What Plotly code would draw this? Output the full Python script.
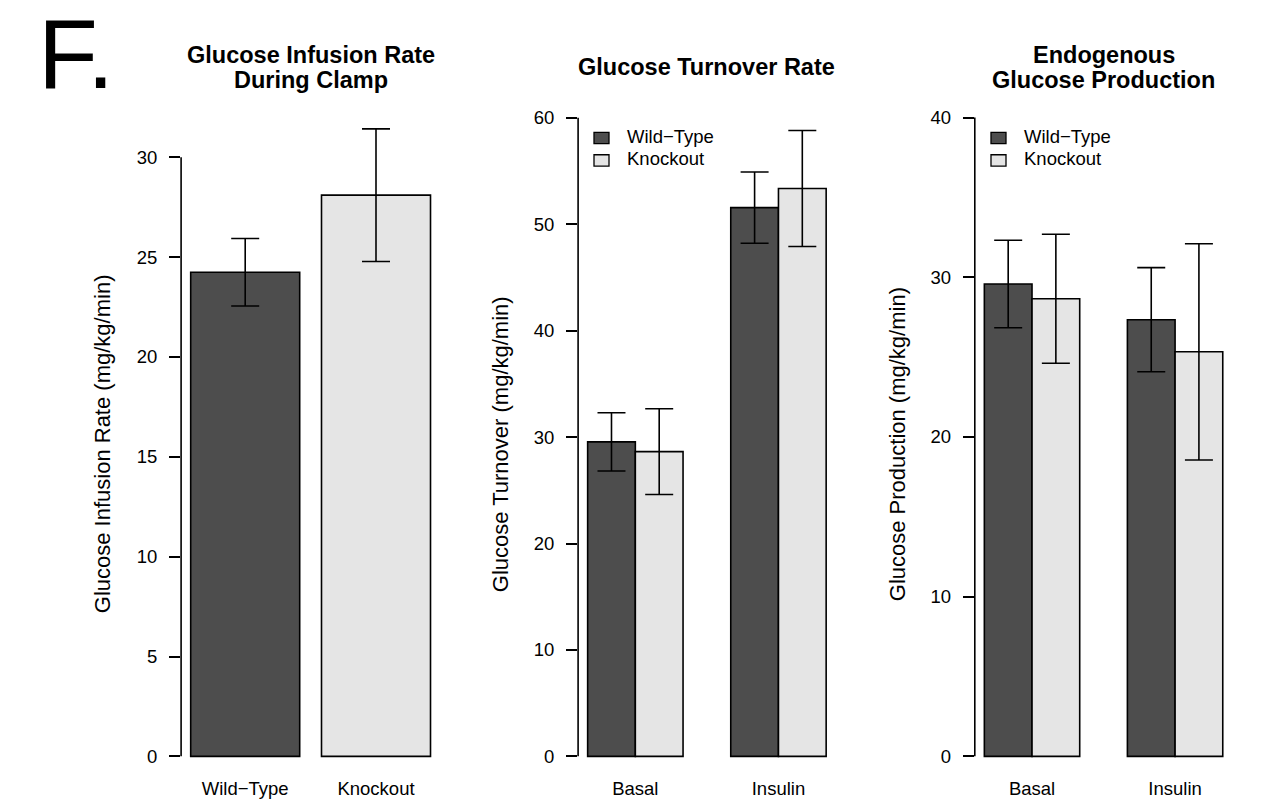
import plotly.graph_objects as go

# ---------------- data ----------------
gir_groups = ["Wild\u2212Type", "Knockout"]
gir_mean = [24.24, 28.10]
gir_se = [1.69, 3.32]

conditions = ["Basal", "Insulin"]
series_names = ["Wild\u2212Type", "Knockout"]

turnover_wt = [29.55, 51.56]
turnover_wt_se = [2.74, 3.35]
turnover_ko = [28.63, 53.36]
turnover_ko_se = [4.03, 5.45]

egp_wt = [29.58, 27.34]
egp_wt_se = [2.74, 3.26]
egp_ko = [28.65, 25.33]
egp_ko_se = [4.04, 6.77]

gir_ticks = [0, 5, 10, 15, 20, 25, 30]
turnover_ticks = [0, 10, 20, 30, 40, 50, 60]
egp_ticks = [0, 10, 20, 30, 40]

titles = [["Glucose Infusion Rate", "During Clamp"],
          ["Glucose Turnover Rate"],
          ["Endogenous", "Glucose Production"]]
ytitles = ["Glucose Infusion Rate (mg/kg/min)",
           "Glucose Turnover (mg/kg/min)",
           "Glucose Production (mg/kg/min)"]

# ---------------- styling / layout ----------------
OFF = 8                      # page body margin in the browser
W, H = 1284 - OFF, 804 - OFF
FONT = "Liberation Sans, Arial, Helvetica, sans-serif"
WT_COL = "#4d4d4d"
KO_COL = "#e5e5e5"
LW = 1.6
TICK_FS = 18.5
TITLE_FS = 23.5
YT_FS = 22


def fx(p):
    return (p - OFF) / W


def fy(p):
    return 1 - (p - OFF) / H


PLOT_TOP, PLOT_BOT = 108, 773
ZERO_PX = 756

panels = [
    dict(xd=(181.1, 440.1), xr=(0.112, 2.488), ppu=(756 - 152.3) / 30),
    dict(xd=(578.1, 835.7), xr=(0.8, 6.2), ppu=(755.7 - 112.3) / 60),
    dict(xd=(974.8, 1232.3), xr=(0.8, 6.2), ppu=(756 - 112.3) / 40),
]

fig = go.Figure()


def err(arr):
    return dict(type="data", array=arr, color="black", thickness=LW, width=14)


bar_line = dict(color="black", width=LW)

# Panel 1
gir_x = [0.7 + 1.2 * i for i in range(len(gir_groups))]
fig.add_trace(go.Bar(
    x=gir_x, y=gir_mean, width=1, name="GIR",
    marker=dict(color=[WT_COL, KO_COL], line=bar_line),
    error_y=err(gir_se), showlegend=False, xaxis="x", yaxis="y"))

# Panels 2 and 3 (grouped)
grp_wt_x = [1.5 + 3 * i for i in range(len(conditions))]
grp_ko_x = [2.5 + 3 * i for i in range(len(conditions))]
grp_center = [2 + 3 * i for i in range(len(conditions))]

for (wt, wtse, ko, kose, ax) in [
        (turnover_wt, turnover_wt_se, turnover_ko, turnover_ko_se, "2"),
        (egp_wt, egp_wt_se, egp_ko, egp_ko_se, "3")]:
    fig.add_trace(go.Bar(
        name=series_names[0], x=grp_wt_x, y=wt, width=1,
        marker=dict(color=WT_COL, line=bar_line), error_y=err(wtse),
        xaxis="x" + ax, yaxis="y" + ax, showlegend=False))
    fig.add_trace(go.Bar(
        name=series_names[1], x=grp_ko_x, y=ko, width=1,
        marker=dict(color=KO_COL, line=bar_line), error_y=err(kose),
        xaxis="x" + ax, yaxis="y" + ax, showlegend=False))

tick_sets = [gir_ticks, turnover_ticks, egp_ticks]
xtick_sets = [(gir_x, gir_groups), (grp_center, conditions), (grp_center, conditions)]

layout = dict(
    width=W, height=H, margin=dict(l=0, r=0, t=0, b=0),
    plot_bgcolor="white", paper_bgcolor="white",
    barmode="overlay", font=dict(family=FONT, color="black", size=TICK_FS),
)

shapes = []
annotations = []
for i, p in enumerate(panels):
    sfx = "" if i == 0 else str(i + 1)
    ymin = -(PLOT_BOT - ZERO_PX) / p["ppu"]
    ymax = (ZERO_PX - PLOT_TOP) / p["ppu"]
    layout["xaxis" + sfx] = dict(
        domain=[fx(p["xd"][0]), fx(p["xd"][1])], range=list(p["xr"]),
        anchor="y" + sfx, showline=False, showgrid=False, zeroline=False,
        tickmode="array", tickvals=xtick_sets[i][0], ticktext=xtick_sets[i][1],
        ticks="", tickfont=dict(size=TICK_FS), ticklabelstandoff=2,
        fixedrange=True)
    layout["yaxis" + sfx] = dict(
        domain=[fy(PLOT_BOT), fy(PLOT_TOP)], range=[ymin, ymax],
        anchor="x" + sfx, showline=False, showgrid=False, zeroline=False,
        tickmode="array", tickvals=tick_sets[i], ticks="outside", ticklen=11,
        tickwidth=LW, tickcolor="black", tickfont=dict(size=TICK_FS),
        ticklabelstandoff=8, fixedrange=True)
    shapes.append(dict(type="line", xref="x" + sfx + " domain", yref="y" + sfx,
                       x0=0, x1=0, y0=tick_sets[i][0], y1=tick_sets[i][-1],
                       line=dict(color="black", width=LW)))
    cx = (p["xd"][0] + p["xd"][1]) / 2
    lines = titles[i]
    ys = [61.5] if len(lines) == 1 else [49.5, 74.5]
    for ln, yy in zip(lines, ys):
        annotations.append(dict(
            text="<b>" + ln + "</b>", x=fx(cx), y=fy(yy),
            xref="paper", yref="paper", xanchor="center", yanchor="middle",
            showarrow=False, font=dict(size=TITLE_FS, family=FONT)))

# y-axis titles (rotated)
ytitle_x = [102, 500, 897]
for i in range(3):
    annotations.append(dict(
        text=ytitles[i], x=fx(ytitle_x[i]), y=fy(441.5), xref="paper", yref="paper",
        xanchor="center", yanchor="middle", textangle=-90, showarrow=False,
        font=dict(size=YT_FS, family=FONT)))

# legends for panels 2 and 3 (drawn as key boxes + labels)
legend_sq_x = [594, 991]
legend_txt_x = [625, 1022]
legend_rows = [133, 155.5]
legend_cols = [WT_COL, KO_COL]
for k in range(2):
    for r in range(2):
        shapes.append(dict(
            type="rect", xref="paper", yref="paper",
            x0=fx(legend_sq_x[k]), x1=fx(legend_sq_x[k] + 15),
            y0=fy(legend_rows[r] - 5.7), y1=fy(legend_rows[r] + 5.7),
            fillcolor=legend_cols[r], line=dict(color="black", width=1.3)))
        annotations.append(dict(
            text=series_names[r], x=fx(legend_txt_x[k]), y=fy(legend_rows[r] - 1.5),
            xref="paper", yref="paper", xanchor="left", yanchor="middle",
            showarrow=False, font=dict(size=TICK_FS, family=FONT)))

# panel letter
annotations.append(dict(
    text="F.", x=fx(36), y=fy(48), xref="paper", yref="paper",
    xanchor="left", yanchor="middle", showarrow=False,
    font=dict(size=98, family=FONT)))

layout["shapes"] = shapes
layout["annotations"] = annotations

fig.update_layout(**layout)
fig.write_html("out.html")
